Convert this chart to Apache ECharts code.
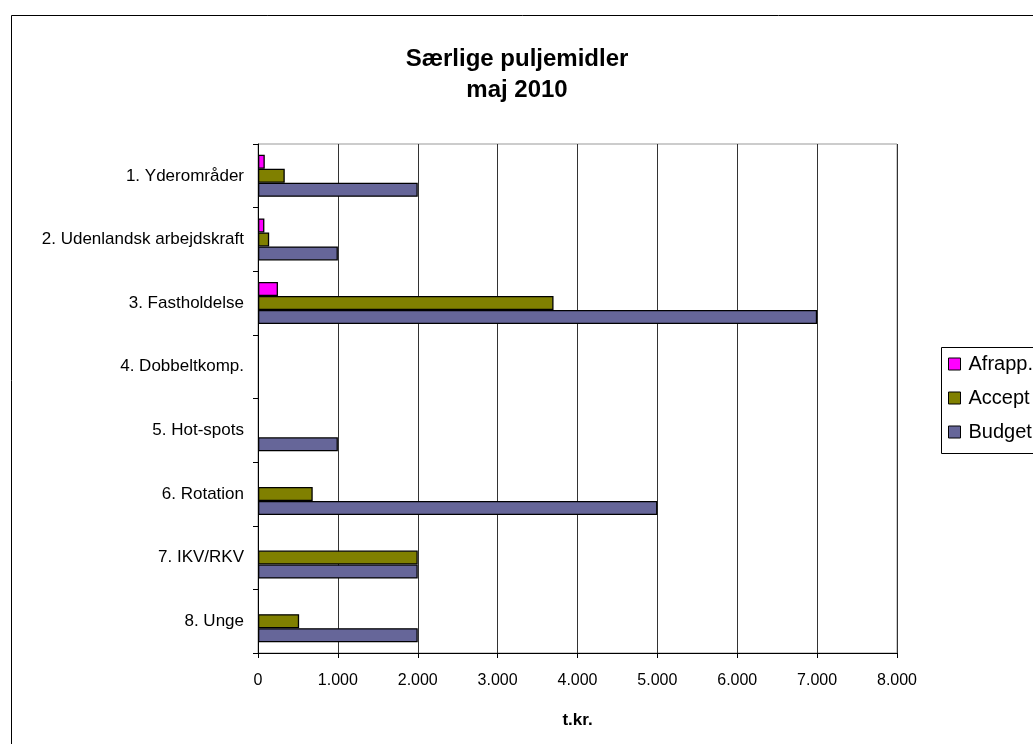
<!DOCTYPE html>
<html>
<head>
<meta charset="utf-8">
<script src="https://cdn.jsdelivr.net/npm/echarts@6/dist/echarts.min.js"></script>
<style>
html, body { margin: 0; padding: 0; background: #fff; }
#chart { width: 1033px; height: 744px; }
</style>
</head>
<body>
<div id="chart"></div>
<script>
var categories = ['1. Yderområder', '2. Udenlandsk arbejdskraft', '3. Fastholdelse', '4. Dobbeltkomp.', '5. Hot-spots', '6. Rotation', '7. IKV/RKV', '8. Unge'];
var afrapp = [85, 80, 250, 0, 0, 0, 0, 0];
var accept = [335, 140, 3700, 0, 0, 685, 2000, 515];
var budget = [2000, 1000, 7000, 0, 1000, 5000, 2000, 2000];

var font = '"Liberation Sans", Arial, sans-serif';

function fmt(v) {
	return String(v).replace(/\B(?=(\d{3})+(?!\d))/g, '.');
}

// zero = no bar at all (no border stub)
function barSeries(name, data, color) {
	return {
		name: name,
		type: 'bar',
		data: data.map(function(v){ return v === 0 ? '-' : v; }),
		barGap: '0%',
		barCategoryGap: '34%',
		itemStyle: { color: color, borderColor: '#000', borderWidth: 1.3 },
		emphasis: { disabled: true }
	};
}

var myChart = echarts.init(document.getElementById('chart'));
myChart.setOption({
	animation: false,
	backgroundColor: '#fff',
	textStyle: { fontFamily: font },
	title: {
		text: 'Særlige puljemidler\nmaj 2010',
		left: 512,
		top: 39,
		textAlign: 'center',
		textStyle: { fontFamily: font, fontSize: 24, fontWeight: 'bold', color: '#000', lineHeight: 31 }
	},
	legend: {
		orient: 'vertical',
		left: 943,
		top: 349,
		itemWidth: 12,
		itemHeight: 12,
		itemGap: 14,
		icon: 'rect',
		data: ['Afrapp.', 'Accept', 'Budget'],
		textStyle: { fontFamily: font, fontSize: 20, lineHeight: 20, color: '#000', padding: [0, 0, 0, 3] },
		itemStyle: { borderColor: '#000', borderWidth: 1 }
	},
	grid: {
		left: 258, right: 136, top: 144, bottom: 91,
		show: true, borderColor: '#999', borderWidth: 1
	},
	xAxis: {
		type: 'value',
		min: 0, max: 8000, interval: 1000,
		name: 't.kr.',
		nameLocation: 'middle',
		nameGap: 59,
		nameTextStyle: { fontFamily: font, fontSize: 17, fontWeight: 'bold', color: '#000' },
		axisLine: { show: true, lineStyle: { color: '#000' } },
		axisTick: { show: true, length: 5, lineStyle: { color: '#000' } },
		axisLabel: { fontSize: 16, color: '#000', margin: 20, formatter: fmt },
		splitLine: { show: true, lineStyle: { color: '#333', width: 1 } }
	},
	yAxis: {
		type: 'category',
		inverse: true,
		data: categories,
		axisLine: { show: true, lineStyle: { color: '#000' } },
		axisTick: { show: true, length: 5, lineStyle: { color: '#000' } },
		axisLabel: { fontSize: 17, color: '#000', margin: 14 },
		splitLine: { show: false }
	},
	series: [
		barSeries('Afrapp.', afrapp, '#ff00ff'),
		barSeries('Accept', accept, '#808000'),
		barSeries('Budget', budget, '#666699')
	],
	graphic: [
		{ type: 'rect', left: 9, top: 13, shape: { width: 1100, height: 800 }, style: { fill: null, stroke: '#000', lineWidth: 1 }, z: -1 },
		{ type: 'rect', left: 939, top: 345, shape: { width: 200, height: 106 }, style: { fill: null, stroke: '#000', lineWidth: 1 }, z: 10 }
	]
});
</script>
</body>
</html>
